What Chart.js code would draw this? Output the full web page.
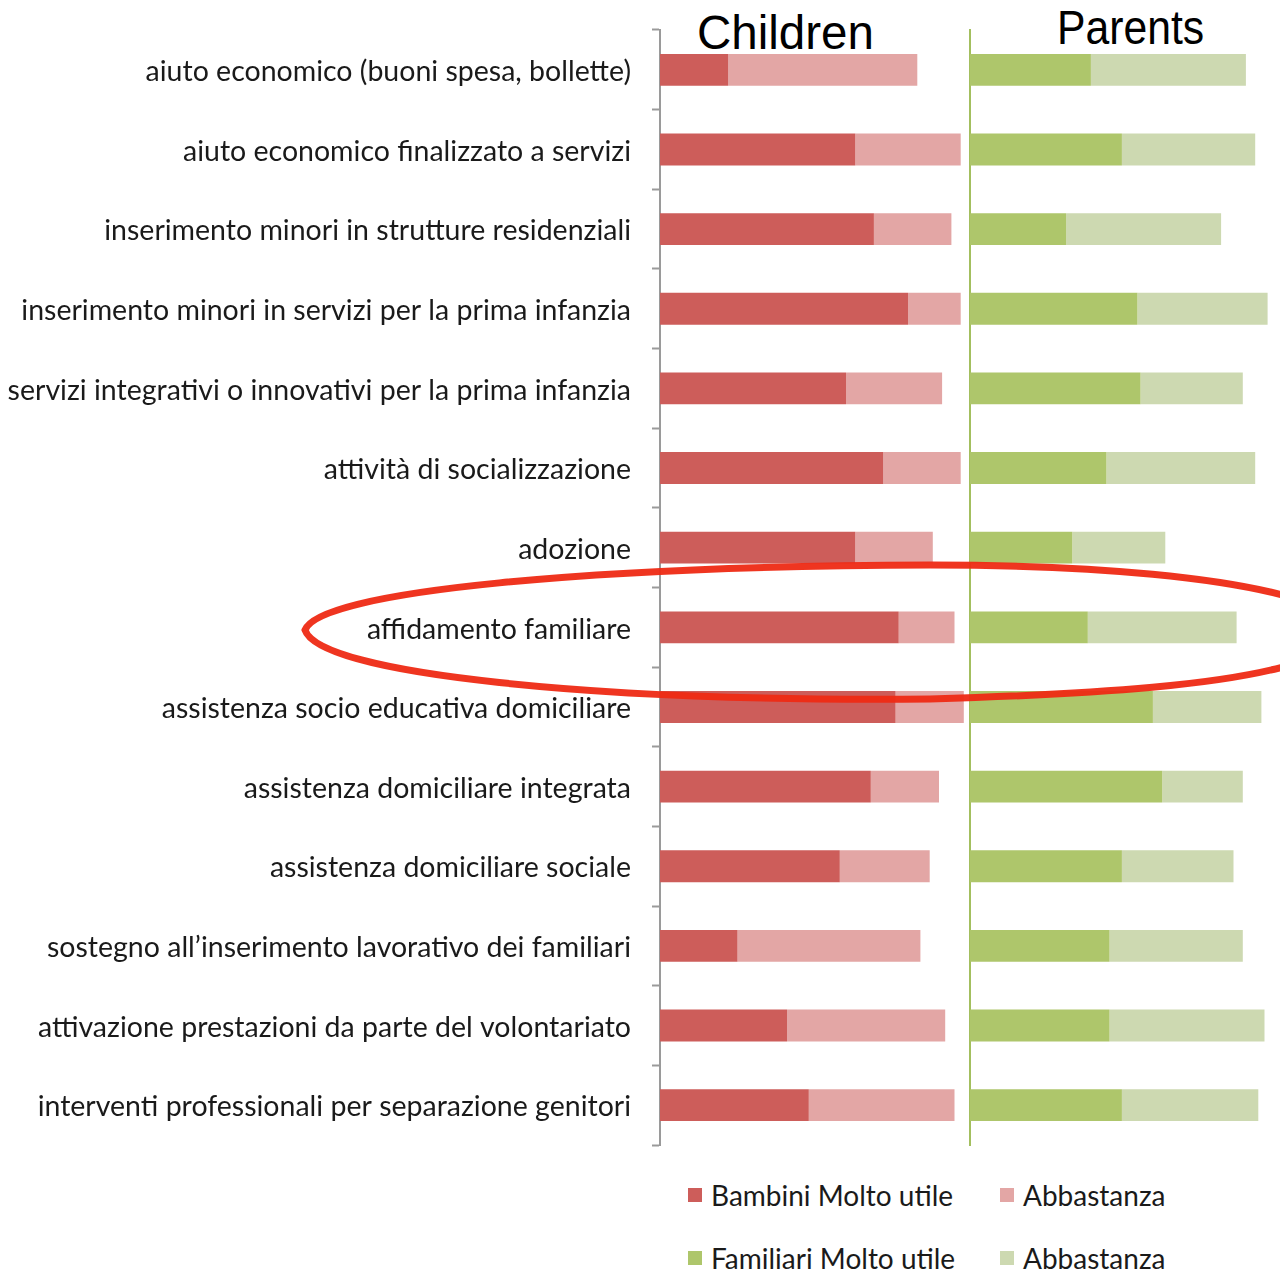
<!DOCTYPE html>
<html>
<head>
<meta charset="utf-8">
<script src="https://cdn.jsdelivr.net/npm/chart.js@4.4.1/dist/chart.umd.min.js"></script>
<style>
  body { margin: 0; background: #fff; width: 1280px; height: 1278px; position: relative; overflow: hidden; }
  canvas { position: absolute; top: 0; }
  #childrenChart { left: 0; }
  #parentsChart { left: 968px; }
  .panel-title { position: absolute; font-family: "Liberation Sans", Arimo, sans-serif; font-size: 48px; color: #000; line-height: 1; transform-origin: left top; white-space: nowrap; }
  .legend-item { position: absolute; font-family: Lato, "Open Sans", sans-serif; font-size: 28px; color: #1a1a1a; display: flex; align-items: center; white-space: nowrap; }
  .legend-item span.box { display: inline-block; width: 14px; height: 14px; margin-right: 9px; }
  svg { position: absolute; left: 0; top: 0; pointer-events: none; }
</style>
</head>
<body>
<div class="panel-title" style="left:697px; top:9px; transform:scaleX(0.99);">Children</div>
<div class="panel-title" style="left:1057px; top:4px; transform:scaleX(0.89);">Parents</div>
<canvas id="childrenChart" width="970" height="1150"></canvas>
<canvas id="parentsChart" width="312" height="1150"></canvas>
<div id="legend"></div>
<svg width="1280" height="1278">
  <path d="M305,630 C320,590 600,566 930,565 C1100,565 1230,578 1300,600 L1300,662 C1230,685 1100,694 930,699 C600,702 320,675 305,630 Z"
        fill="none" stroke="#ee2a14" stroke-width="7" opacity="0.95"/>
</svg>
<script>
// Valori (percentuali stimate)
const categories = [
  'aiuto economico (buoni spesa, bollette)',
  'aiuto economico finalizzato a servizi',
  'inserimento minori in strutture residenziali',
  'inserimento minori in servizi per la prima infanzia',
  'servizi integrativi o innovativi per la prima infanzia',
  'attività di socializzazione',
  'adozione',
  'affidamento familiare',
  'assistenza socio educativa domiciliare',
  'assistenza domiciliare integrata',
  'assistenza domiciliare sociale',
  'sostegno all’inserimento lavorativo dei familiari',
  'attivazione prestazioni da parte del volontariato',
  'interventi professionali per separazione genitori'
];

const bambiniMolto = [22, 63, 69, 80, 60, 72, 63, 77, 76, 68, 58, 25, 41, 48];
const bambiniAbbastanza = [61, 34, 25, 17, 31, 25, 25, 18, 22, 22, 29, 59, 51, 47];
const familiariMolto = [39, 49, 31, 54, 55, 44, 33, 38, 59, 62, 49, 45, 45, 49];
const familiariAbbastanza = [50, 43, 50, 42, 33, 48, 30, 48, 35, 26, 36, 43, 50, 44];

const seriesNames = ['Bambini Molto utile', 'Abbastanza', 'Familiari Molto utile', 'Abbastanza'];
const seriesColors = ['#cd5d5a', '#e3a6a5', '#aec66b', '#cdd9b1'];

const xMax = 100;

function barOptions(showLabels) {
  return {
    indexAxis: 'y',
    responsive: false,
    animation: false,
    layout: { padding: { top: 30, bottom: 5, left: 0, right: 0 } },
    plugins: { legend: { display: false }, tooltip: { enabled: false } },
    scales: {
      x: { display: false, stacked: true, min: 0, max: xMax },
      y: {
        stacked: true,
        afterFit: function(scale) {
          scale.width = showLabels ? 660 : 2;
          // keep the plot area fixed by the layout padding only
          scale.paddingTop = 0;
          scale.paddingBottom = 0;
        },
        grid: {
          display: showLabels,
          drawOnChartArea: false,
          offset: true,
          tickLength: 8,
          tickWidth: 2,
          color: '#9a9a9a'
        },
        border: { display: true, color: showLabels ? '#9a9a9a' : '#a3bf5e', width: 2 },
        ticks: {
          display: showLabels,
          padding: 21,
          labelOffset: 2,
          color: '#1a1a1a',
          font: { family: 'Lato, "Open Sans", sans-serif', size: 28.5 }
        }
      }
    }
  };
}

function dataset(label, values, color) {
  return {
    label: label,
    data: values,
    backgroundColor: color,
    borderWidth: 0,
    barPercentage: 0.4,
    categoryPercentage: 1
  };
}

// Children
new Chart(document.getElementById('childrenChart'), {
  type: 'bar',
  data: {
    labels: categories,
    datasets: [
      dataset(seriesNames[0], bambiniMolto, seriesColors[0]),
      dataset(seriesNames[1], bambiniAbbastanza, seriesColors[1])
    ]
  },
  options: barOptions(true)
});

// Parents
new Chart(document.getElementById('parentsChart'), {
  type: 'bar',
  data: {
    labels: categories,
    datasets: [
      dataset(seriesNames[2], familiariMolto, seriesColors[2]),
      dataset(seriesNames[3], familiariAbbastanza, seriesColors[3])
    ]
  },
  options: barOptions(false)
});

// Legend (2 x 2)
const legend = document.getElementById('legend');
const legendPos = [[688, 1178], [1000, 1178], [688, 1241], [1000, 1241]];
seriesNames.forEach(function(name, i) {
  const item = document.createElement('div');
  item.className = 'legend-item';
  item.style.left = legendPos[i][0] + 'px';
  item.style.top = legendPos[i][1] + 'px';
  item.innerHTML = '<span class="box" style="background:' + seriesColors[i] + '"></span>' + name;
  legend.appendChild(item);
});
</script>
</body>
</html>
